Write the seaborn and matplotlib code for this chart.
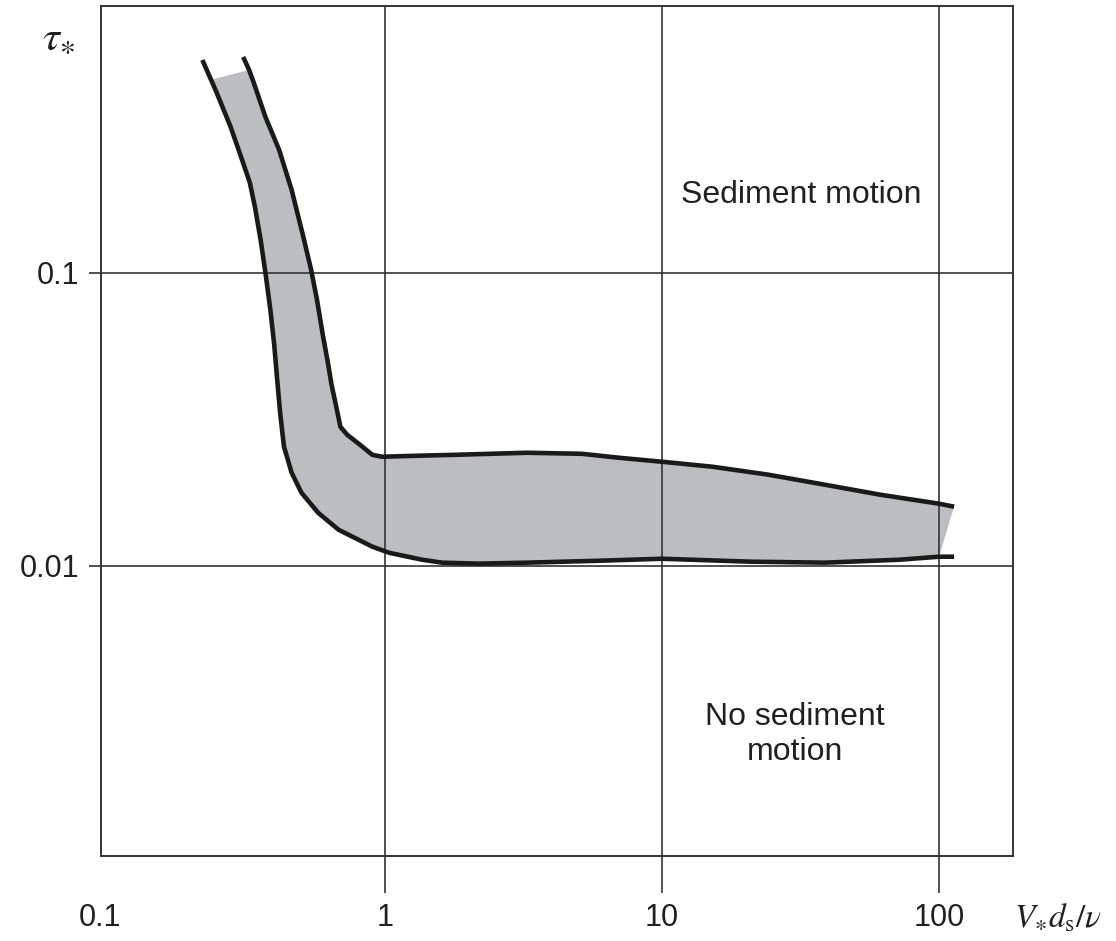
import numpy as np
import pandas as pd
import matplotlib
matplotlib.use("Agg")
import matplotlib.pyplot as plt
from matplotlib.transforms import ScaledTranslation
import seaborn as sns

# ---- data ----
# lower / left boundary of the Shields band: particle Reynolds number, tau*
lower_re = [0.219, 0.2355, 0.247, 0.277, 0.3075, 0.325, 0.339, 0.3555, 0.370, 0.3855,
            0.398, 0.408, 0.418, 0.4316, 0.460, 0.499, 0.573, 0.679, 0.900, 1.034,
            1.36, 1.606, 2.185, 3.255, 6.02, 10.0, 20.8, 38.7, 72.1, 100.0, 113.4]
lower_tau = [0.533, 0.456, 0.411, 0.315, 0.237, 0.203, 0.168, 0.1296, 0.100, 0.0747,
             0.0568, 0.0431, 0.0333, 0.0255, 0.02077, 0.01775, 0.01517, 0.01327, 0.01161, 0.01107,
             0.01048, 0.01024, 0.01016, 0.01024, 0.0104, 0.01056, 0.01032, 0.01024, 0.01048, 0.01073, 0.01073]

# upper / right boundary
upper_re = [0.3075, 0.323, 0.333, 0.370, 0.4146, 0.460, 0.507, 0.541, 0.568, 0.596,
            0.621, 0.641, 0.662, 0.690, 0.730, 0.811, 0.900, 0.976, 1.294, 1.76,
            3.255, 5.14, 7.0, 10.0, 15.2, 24.2, 38.7, 61.4, 100.0, 113.4]
upper_tau = [0.546, 0.493, 0.456, 0.3406, 0.263, 0.192, 0.1327, 0.1024, 0.0809, 0.0614,
             0.0497, 0.0415, 0.036, 0.0298, 0.028, 0.0259, 0.0239, 0.02355, 0.02373, 0.0239,
             0.0243, 0.0241, 0.02336, 0.02264, 0.02177, 0.02045, 0.0189, 0.01747, 0.01628, 0.0159]

x_ticks = [0.1, 1, 10, 100]
x_ticklabels = ["0.1", "1", "10", "100"]
y_ticks = [0.01, 0.1]
y_ticklabels = ["0.01", "0.1"]

region_upper = "Sediment motion"
region_lower = "No sediment\nmotion"

# ---- styling ----
sns.set_style("white")
plt.rcParams["font.family"] = ["Liberation Sans", "DejaVu Sans"]
plt.rcParams["mathtext.fontset"] = "stix"

TXT = "#231f20"
GRID = "#333333"
LINE = "#1a1a1a"
FILL = "#bcbdc1"

fig = plt.figure(figsize=(11.16, 9.41), dpi=100)
ax = fig.add_axes([101 / 1116, 85 / 941, 912 / 1116, 850 / 941])
ax.set_xscale("log")
ax.set_yscale("log")

# band fill (polygon from the two boundaries)
poly_x = upper_re[1:] + lower_re[1:-1][::-1]
poly_y = upper_tau[1:] + lower_tau[1:-1][::-1]
ax.fill(poly_x, poly_y, color=FILL, lw=0, zorder=1)

df_lo = pd.DataFrame({"re": lower_re, "tau": lower_tau})
df_up = pd.DataFrame({"re": upper_re, "tau": upper_tau})
for d in (df_lo, df_up):
    sns.lineplot(data=d, x="re", y="tau", sort=False, estimator=None, color=LINE,
                 lw=3.3, ax=ax, zorder=3, solid_capstyle="butt", solid_joinstyle="round")

ax.set_xlim(0.0943, 185)
ax.set_ylim(0.00102, 0.815)
ax.set_xlabel("")
ax.set_ylabel("")

ax.set_xticks(x_ticks)
ax.set_xticklabels(x_ticklabels)
ax.set_yticks(y_ticks)
ax.set_yticklabels(y_ticklabels)
ax.minorticks_off()

ax.set_axisbelow(False)
ax.grid(True, which="major", color=GRID, lw=1.2, zorder=2.5)
ax.tick_params(axis="x", direction="out", length=26.6, width=1.2, color=GRID,
               pad=7, labelsize=22, labelcolor=TXT, bottom=True)
ax.tick_params(axis="y", direction="out", length=8.6, width=1.2, color=GRID,
               pad=7, labelsize=22, labelcolor=TXT, left=True)

for s in ax.spines.values():
    s.set_color("#333333")
    s.set_linewidth(1.4)

# the 0.1 tick sits on the frame: no tick line, label drawn at the frame
t0 = ax.xaxis.get_major_ticks()[0]
t0.tick1line.set_visible(False)
t0.gridline.set_visible(False)
t0.label1.set_transform(t0.label1.get_transform() + ScaledTranslation(-0.08, 0, fig.dpi_scale_trans))

ax.text(0.7675, 0.778, region_upper, transform=ax.transAxes, ha="center", va="center",
        fontsize=23, color=TXT)
ax.text(0.761, 0.143, region_lower, transform=ax.transAxes, ha="center", va="center",
        fontsize=23, color=TXT, linespacing=1.2, multialignment="center")

fig.text(42 / 1116, 1 - 38 / 941, r"$\tau_{\ast}$", ha="left", va="center", fontsize=31, color=TXT)
fig.text(1014 / 1116, 1 - 927 / 941, r"$V_{\ast}d_{\mathrm{s}}/\nu$", ha="left", va="baseline",
         fontsize=24, color=TXT)

fig.savefig("out.png", dpi=100)
